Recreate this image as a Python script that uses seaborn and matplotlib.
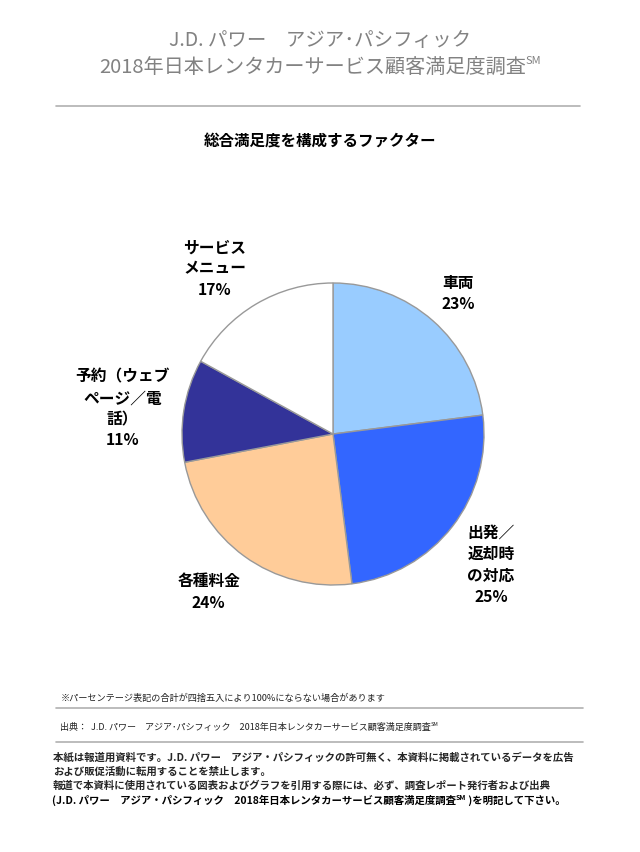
import matplotlib
matplotlib.use("Agg")
import matplotlib.pyplot as plt
from matplotlib.lines import Line2D
import seaborn as sns
import numpy as np

categories = ["車両", "出発／\n返却時\nの対応", "各種料金", "予約（ウェブ\nページ／電\n話）", "サービス\nメニュー"]
values = [23, 25, 24, 11, 17]
colors = ["#99CCFF", "#3366FF", "#FFCC99", "#333399", "#FFFFFF"]

title1 = "J.D. パワー　アジア･パシフィック"
title2 = "2018年日本レンタカーサービス顧客満足度調査"
subtitle = "総合満足度を構成するファクター"
note = "※パーセンテージ表記の合計が四捨五入により100%にならない場合があります"
source = "出典：  J.D. パワー　アジア･パシフィック　2018年日本レンタカーサービス顧客満足度調査"
foot1 = "本紙は報道用資料です。J.D. パワー　アジア・パシフィックの許可無く、本資料に掲載されているデータを広告"
foot2 = "および販促活動に転用することを禁止します。"
foot3 = "報道で本資料に使用されている図表およびグラフを引用する際には、必ず、調査レポート発行者および出典"
foot4a = "(J.D. パワー　アジア・パシフィック　2018年日本レンタカーサービス顧客満足度調査"
foot4b = " )を明記して下さい。"

sns.set_theme(style="white")
plt.rcParams['font.family'] = ['Noto Sans CJK JP', 'DejaVu Sans']

W, H = 640, 853
fig = plt.figure(figsize=(W / 100, H / 100), dpi=100)
fig.patch.set_facecolor("white")
renderer = fig.canvas.get_renderer()


def fy(py):
    return 1 - py / H


def hline(x0, x1, y):
    fig.add_artist(Line2D([x0 / W, x1 / W], [fy(y)] * 2, transform=fig.transFigure,
                          color="#b0b0b0", lw=1.2))


def seq(x, y, parts, ha="left", **kw):
    """Draw text segments in a row; parts = (text, size, rise_px)."""
    arts = []
    cur = x
    for txt, size, rise in parts:
        t = fig.text(cur / W, fy(y - rise), txt, fontsize=size, va="center", ha="left", **kw)
        bb = t.get_window_extent(renderer)
        cur += bb.width
        arts.append(t)
    total = cur - x
    if ha == "center":
        shift = total / 2
        for t in arts:
            px, py_ = t.get_position()
            t.set_position((px - shift / W, py_))
    return arts


# Titles
gray = "#828282"
fig.text(0.5, fy(40), title1, ha="center", va="center", fontsize=14, color=gray)
seq(320, 67, [(title2, 14.5, 0), ("SM", 8, 6)], ha="center", color=gray)
hline(56, 580, 107)
fig.text(0.5, fy(142), subtitle, ha="center", va="center", fontsize=11.2, fontweight="bold", color="black")

# Pie
cx, cy, r = 333, 435, 151
ax = fig.add_axes([(cx - r) / W, (H - cy - r) / H, 2 * r / W, 2 * r / H])
wedges, _ = ax.pie(values, colors=colors, startangle=90, counterclock=False,
                   wedgeprops=dict(edgecolor="#999999", linewidth=1))
ax.set_xlim(-1, 1)
ax.set_ylim(-1, 1)
label_dist = [1.25, 1.35, 1.31, 1.41, 1.28]
label_shift = [(0, 0), (-3, -5), (-8, 3), (0, -7), (-20, 0)]  # pixels
for w, cat, v, d, sh in zip(wedges, categories, values, label_dist, label_shift):
    ang = np.deg2rad((w.theta1 + w.theta2) / 2)
    ax.annotate(f"{cat}\n{v}%", xy=(d * np.cos(ang), d * np.sin(ang)), xytext=sh,
                textcoords="offset pixels", ha="center", va="center",
                fontsize=11.3, fontweight="bold", linespacing=1.4, color="black",
                annotation_clip=False)

# Footer
fig.text(61 / W, fy(698), note, ha="left", va="center", fontsize=6.6, color="#222222", style="italic")
hline(56, 583, 709)
seq(60, 727, [(source, 6.5, 0), ("SM", 4, 3)], color="#222222", style="italic")
hline(56, 583, 743)
fs = 7.5
fig.text(53 / W, fy(757), foot1, ha="left", va="center", fontsize=fs, fontweight="bold")
fig.text(53 / W, fy(771.5), foot2, ha="left", va="center", fontsize=fs, fontweight="bold")
fig.text(53 / W, fy(786), foot3, ha="left", va="center", fontsize=fs, fontweight="bold")
seq(52, 800.5, [(foot4a, fs, 0), ("SM", 5, 3), (foot4b, fs, 0)], fontweight="bold", color="black")

fig.savefig("out.png", dpi=100, facecolor="white")
